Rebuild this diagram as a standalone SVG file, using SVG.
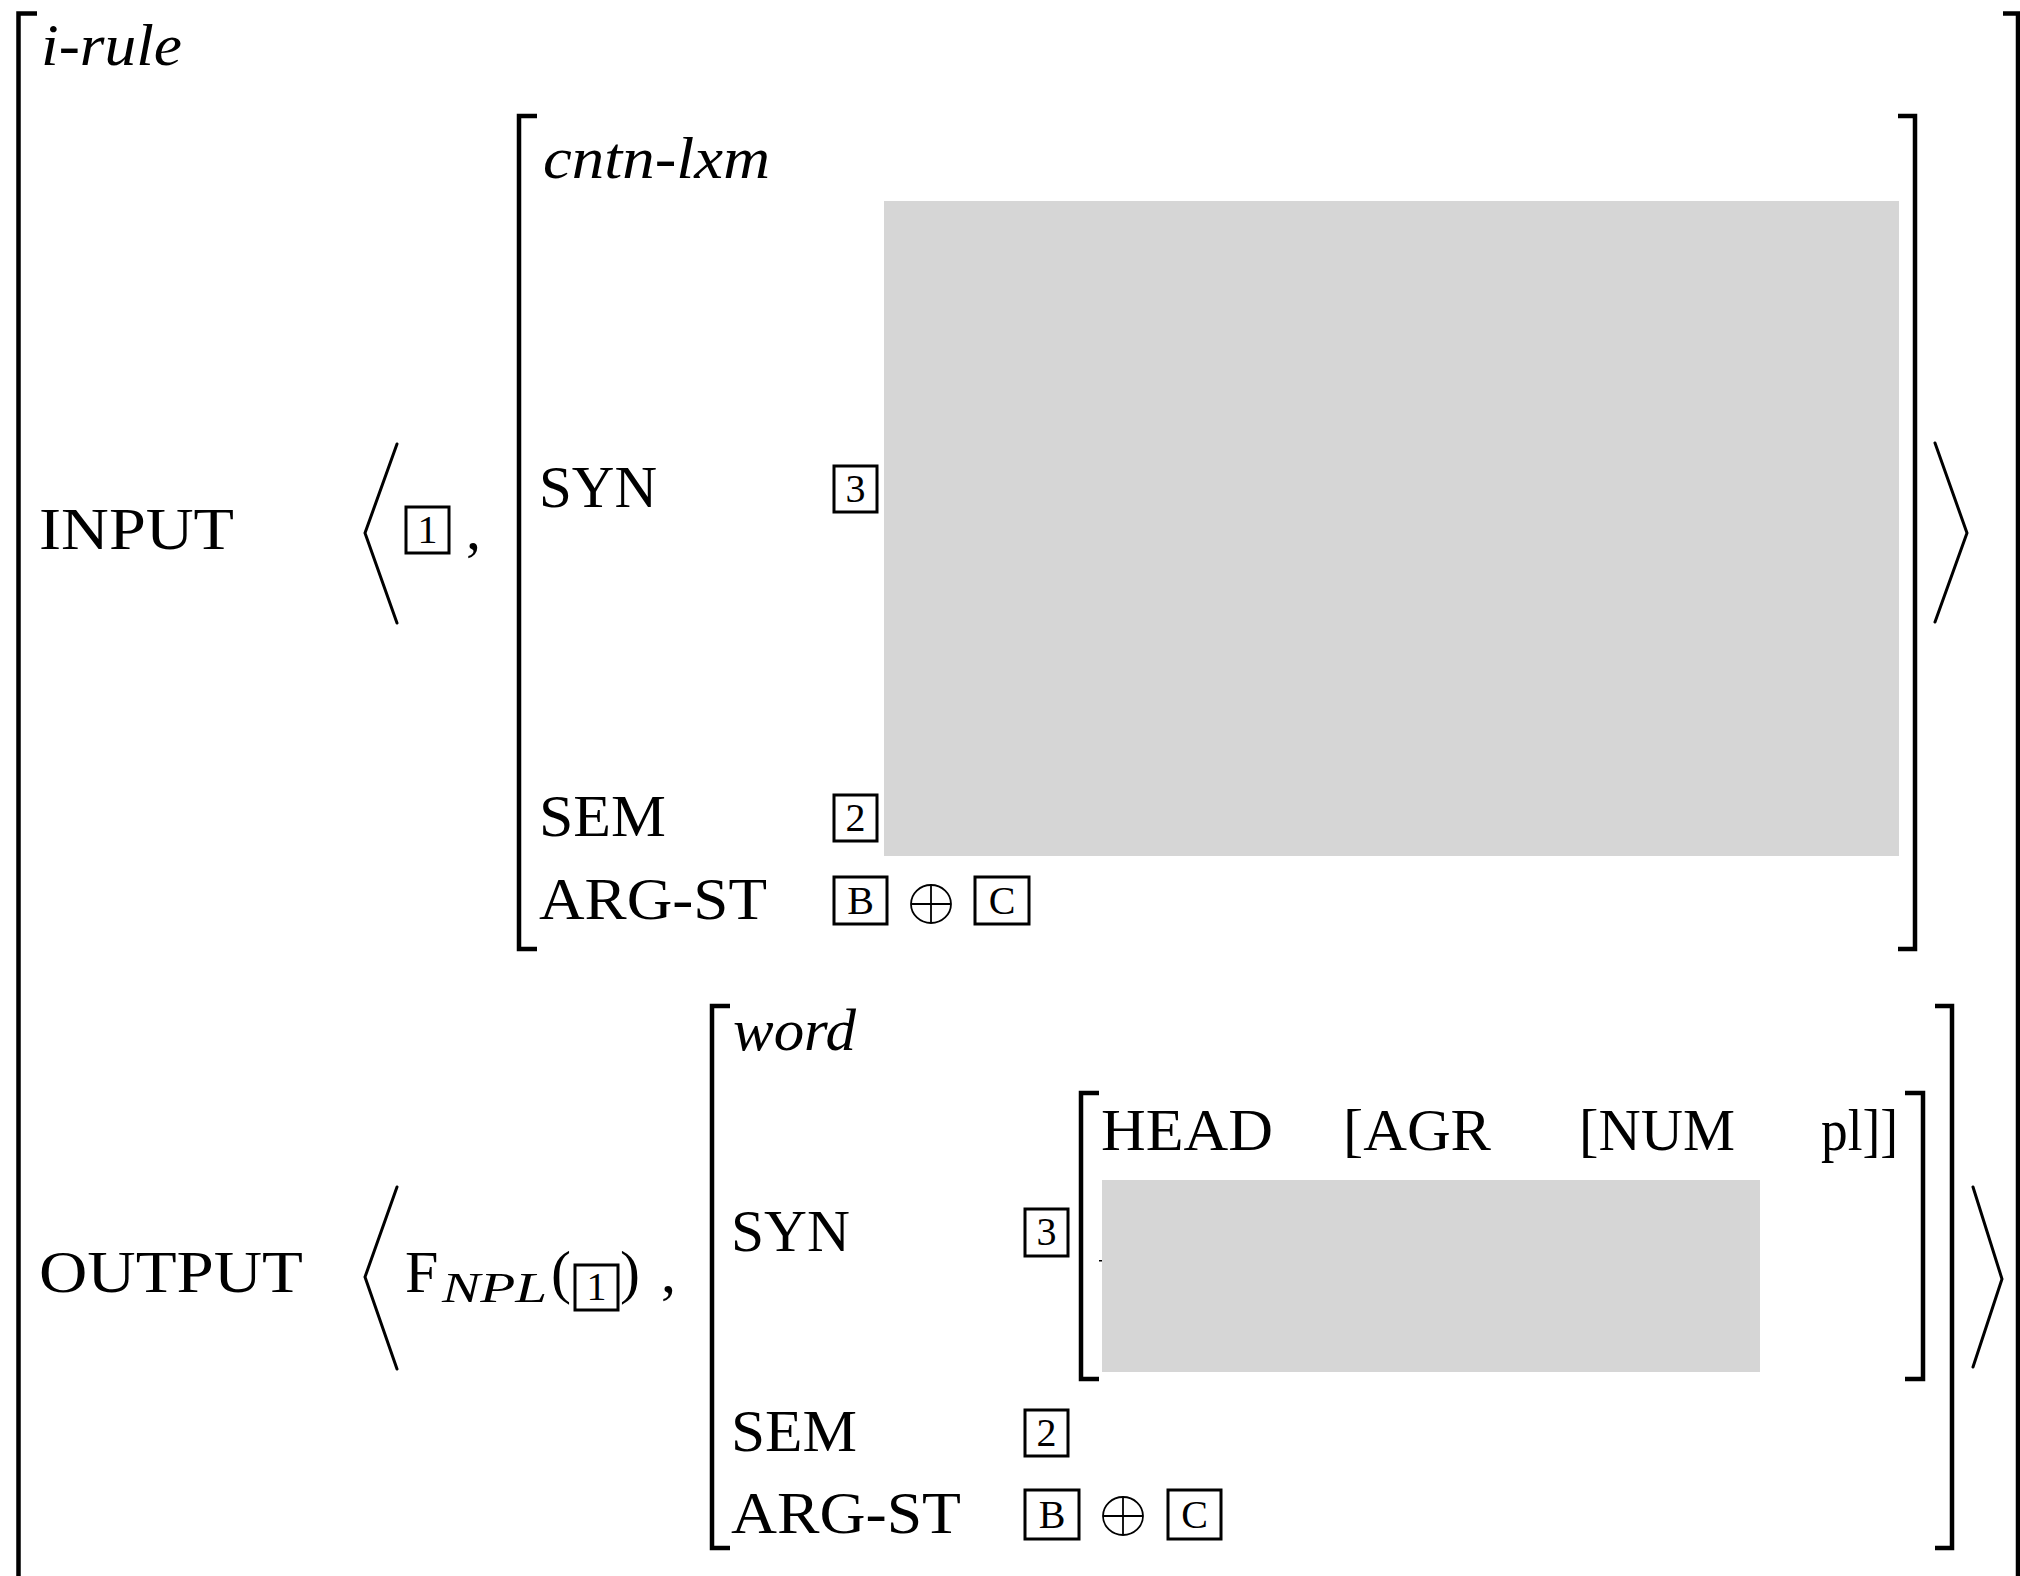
<svg xmlns="http://www.w3.org/2000/svg" width="2020" height="1576" viewBox="0 0 2020 1576">
<style>
.t{font-family:"Liberation Serif","Times New Roman",serif;font-size:60px;fill:#000}
.i{font-family:"Liberation Serif","Times New Roman",serif;font-size:60px;font-style:italic;fill:#000}
.s{font-family:"Liberation Serif","Times New Roman",serif;font-size:42px;font-style:italic;fill:#000}
.d{font-family:"Liberation Serif","Times New Roman",serif;font-size:40px;fill:#000;text-anchor:middle}
.br{fill:none;stroke:#000;stroke-width:4.5;stroke-linecap:butt;stroke-linejoin:miter}
.ang{fill:none;stroke:#000;stroke-width:3;stroke-linecap:round;stroke-linejoin:miter}
.bx{fill:none;stroke:#000;stroke-width:3}
.op{fill:none;stroke:#000;stroke-width:1.8}
.gray{fill:#d6d6d6}
</style>
<rect width="2020" height="1576" fill="#fff"/>

<g id="outer">
  <path class="br" d="M37 13.5 H18.5 V1580"/>
  <path class="br" d="M2003 13.5 H2018 V1580"/>
  <text class="i" x="41" y="65" textLength="141" lengthAdjust="spacingAndGlyphs">i-rule</text>
</g>

<g id="input">
  <text class="t" x="39" y="549" textLength="195" lengthAdjust="spacingAndGlyphs">INPUT</text>
  <path class="ang" d="M397 444 L365 533 L397 623"/>
  <rect class="bx" x="406" y="507" width="43" height="46"/>
  <text class="d" x="427.5" y="543">1</text>
  <text class="t" x="466" y="549">,</text>
  <g id="input-avm">
    <path class="br" d="M537 116 H519 V949 H537"/>
    <path class="br" d="M1898 116 H1915 V949 H1898"/>
    <text class="i" x="543" y="178" textLength="227" lengthAdjust="spacingAndGlyphs">cntn-lxm</text>
    <text class="t" x="539" y="507" textLength="118" lengthAdjust="spacingAndGlyphs">SYN</text>
    <rect class="bx" x="834" y="466" width="43" height="46"/>
    <text class="d" x="855.5" y="502">3</text>
    <rect class="gray" x="884" y="201" width="1015" height="655"/>
    <text class="t" x="539" y="836" textLength="127" lengthAdjust="spacingAndGlyphs">SEM</text>
    <rect class="bx" x="834" y="795" width="43" height="46"/>
    <text class="d" x="855.5" y="831">2</text>
    <text class="t" x="539" y="919" textLength="228" lengthAdjust="spacingAndGlyphs">ARG-ST</text>
    <rect class="bx" x="834" y="877" width="53" height="47"/>
    <text class="d" x="860.5" y="914">B</text>
    <g class="op"><ellipse cx="931" cy="904" rx="20" ry="19"/><path d="M911 904 H951 M931 885 V923"/></g>
    <rect class="bx" x="975" y="877" width="54" height="47"/>
    <text class="d" x="1002" y="914">C</text>
  </g>
  <path class="ang" d="M1935 443 L1967 533 L1935 622"/>
</g>

<g id="output">
  <text class="t" x="39" y="1292" textLength="264" lengthAdjust="spacingAndGlyphs">OUTPUT</text>
  <path class="ang" d="M397 1187 L365 1277 L397 1369"/>
  <text class="t" x="405" y="1292">F</text>
  <text class="s" x="442" y="1302" textLength="105" lengthAdjust="spacingAndGlyphs">NPL</text>
  <text class="t" x="551" y="1292">(</text>
  <rect class="bx" x="575" y="1265" width="43" height="45"/>
  <text class="d" x="596.5" y="1300">1</text>
  <text class="t" x="620" y="1292">)</text>
  <text class="t" x="661" y="1292">,</text>
  <g id="output-avm">
    <path class="br" d="M730 1006 H712 V1548 H730"/>
    <path class="br" d="M1935 1006 H1952 V1548 H1935"/>
    <text class="i" x="733" y="1050" textLength="123" lengthAdjust="spacingAndGlyphs">word</text>
    <text class="t" x="731" y="1251" textLength="119" lengthAdjust="spacingAndGlyphs">SYN</text>
    <rect class="bx" x="1025" y="1209" width="43" height="47"/>
    <text class="d" x="1046.5" y="1245">3</text>
    <g id="syn-value">
      <path class="br" d="M1099 1093 H1081 V1379 H1099"/>
      <path class="br" d="M1905 1093 H1923 V1379 H1905"/>
      <text class="t" x="1101" y="1150" textLength="172" lengthAdjust="spacingAndGlyphs">HEAD</text>
      <text class="t" x="1343" y="1150" textLength="148" lengthAdjust="spacingAndGlyphs">[AGR</text>
      <text class="t" x="1579" y="1150" textLength="156" lengthAdjust="spacingAndGlyphs">[NUM</text>
      <text class="t" x="1821" y="1150" textLength="77" lengthAdjust="spacingAndGlyphs">pl]]</text>
      <rect x="1099" y="1260" width="4" height="1.5" fill="#000"/>
      <rect class="gray" x="1102" y="1180" width="658" height="192"/>
    </g>
    <text class="t" x="731" y="1451" textLength="126" lengthAdjust="spacingAndGlyphs">SEM</text>
    <rect class="bx" x="1025" y="1410" width="43" height="46"/>
    <text class="d" x="1046.5" y="1446">2</text>
    <text class="t" x="731" y="1533" textLength="230" lengthAdjust="spacingAndGlyphs">ARG-ST</text>
    <rect class="bx" x="1025" y="1490" width="54" height="49"/>
    <text class="d" x="1052" y="1528">B</text>
    <g class="op"><ellipse cx="1123" cy="1516" rx="20" ry="19"/><path d="M1103 1516 H1143 M1123 1497 V1535"/></g>
    <rect class="bx" x="1168" y="1490" width="53" height="49"/>
    <text class="d" x="1194.5" y="1528">C</text>
  </g>
  <path class="ang" d="M1973 1187 L2002 1279 L1973 1367"/>
</g>
</svg>
